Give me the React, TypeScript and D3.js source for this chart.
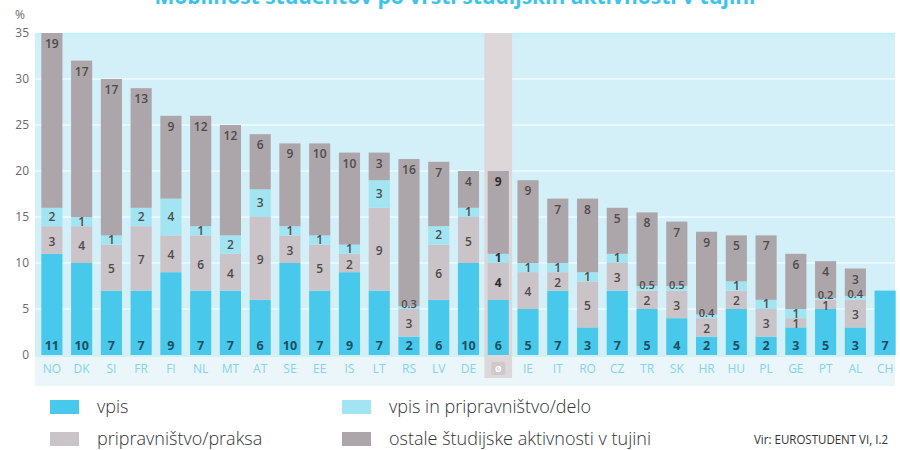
import React from "react";
import * as d3 from "d3";

const countries = ["NO","DK","SI","FR","FI","NL","MT","AT","SE","EE","IS","LT","RS","LV","DE","Ø","IE","IT","RO","CZ","TR","SK","HR","HU","PL","GE","PT","AL","CH"];
const vpis = [11,10,7,7,9,7,7,6,10,7,9,7,2,6,10,6,5,7,3,7,5,4,2,5,2,3,5,3,7];
const praksa = [3,4,5,7,4,6,4,9,3,5,2,9,3,6,5,4,4,2,5,3,2,3,2,2,3,1,1,3,0];
const vpisDelo = [2,1,1,2,4,1,2,3,1,1,1,3,0.3,2,1,1,1,1,1,1,0.5,0.5,0.4,1,1,1,0.2,0.4,0];
const ostale = [19,17,17,13,9,12,12,6,9,10,10,3,16,7,4,9,9,7,8,5,8,7,9,5,7,6,4,3,0];
const yTicks = [0,5,10,15,20,25,30,35];

const seriesNames = ["vpis","pripravništvo/praksa","vpis in pripravništvo/delo","ostale študijske aktivnosti v tujini"];
const colors = ["#48c9eb","#cac3c7","#a3e4f2","#aca5a9"];

const FONT = "'Open Sans', 'DejaVu Sans', sans-serif";

export default function App() {
  const W = 900, H = 450;
  const x = d3.scaleBand<string>().domain(countries).range([37, 900]).paddingInner(0.29).paddingOuter(0.145);
  const y = d3.scaleLinear().domain([0, 35]).range([355, 33]);
  const rows = countries.map((c, i) => ({ c, vpis: vpis[i], praksa: praksa[i], vpisDelo: vpisDelo[i], ostale: ostale[i] }));
  const keys = ["vpis","praksa","vpisDelo","ostale"];
  const stack = d3.stack<any>().keys(keys)(rows);
  const avgX = x("Ø")!;
  const step = x.step();

  return (
    <svg width={W} height={H} style={{ display: "block", position: "absolute", left: 0, top: 0 }}>
      <rect x={0} y={0} width={W} height={H} fill="#ffffff" />
      <text x={455} y={4} textAnchor="middle" fontFamily={FONT} fontWeight={700} fontSize={21} fill="#3dc3ea">
        Mobilnost študentov po vrsti študijskih aktivnosti v tujini
      </text>
      <rect x={35} y={33} width={860} height={324} fill="#d3f0f8" />
      <rect x={35} y={33} width={860} height={4} fill="#c6f1f7" />
      <rect x={35} y={357} width={860} height={29} fill="#eaf6fa" />
      {yTicks.filter(t => t > 0 && t < 35).map(t => (
        <line key={t} x1={35} x2={895} y1={y(t)} y2={y(t)} stroke="#e8f8fc" strokeWidth={2} />
      ))}
      <rect x={avgX + x.bandwidth() / 2 - step / 2 + 1} y={33} width={step - 2} height={345} fill="#ddd7da" />
      {yTicks.map(t => (
        <text key={t} x={29} y={y(t) + 4} textAnchor="end" fontFamily={FONT} fontSize={12} fill="#6a6a6a">{t}</text>
      ))}
      <text x={20} y={19} textAnchor="middle" fontFamily={FONT} fontSize={12} fill="#6a6a6a">%</text>
      {stack.map((s, si) => (
        <g key={si}>
          {s.map((d, i) => {
            const h = y(d[0]) - y(d[1]);
            if (h <= 0) return null;
            return <rect key={i} x={x(countries[i])} y={y(d[1])} width={x.bandwidth()} height={h} fill={colors[si]} />;
          })}
        </g>
      ))}
      {stack.map((s, si) => (
        <g key={"l" + si}>
          {s.map((d, i) => {
            const v = d[1] - d[0];
            if (v <= 0) return null;
            const cx = x(countries[i])! + x.bandwidth() / 2;
            const small = si === 2 && v < 0.6;
            const isAvg = countries[i] === "Ø";
            let ly;
            if (si === 0) ly = 350;
            else if (si === 3) ly = y(d[1]) + 15;
            else if (si === 1) ly = (y(d[0]) + y(d[1])) / 2 + 5.5;
            else ly = (y(d[0]) + y(d[1])) / 2 + (small ? 0.5 : 4);
            const txt = Math.round(v * 10) / 10;
            return (
              <text key={i} x={cx} y={ly} textAnchor="middle" fontFamily={FONT}
                fontWeight={si === 0 || isAvg ? 700 : 600} fontSize={small ? 11 : si === 0 ? 12.5 : 12}
                fill={si === 0 ? "#1d4f63" : isAvg ? "#2f2b2d" : "#4f4b4d"}>{txt}</text>
            );
          })}
        </g>
      ))}
      {countries.map(c => {
        const cx = x(c)! + x.bandwidth() / 2;
        if (c === "Ø") {
          return (
            <g key={c}>
              <rect x={cx - 7} y={362} width={14} height={13} rx={2} fill="#cfc9cc" />
              <text x={cx} y={372} textAnchor="middle" fontFamily={FONT} fontSize={8} fontWeight={700} fill="#ffffff">Ø</text>
            </g>
          );
        }
        return <text key={c} x={cx} y={373} textAnchor="middle" fontFamily={FONT} fontSize={12} fill="#86d3ea">{c}</text>;
      })}
      {seriesNames.map((n, i) => {
        const col = i % 2 === 0 ? 0 : 1;
        const row = i < 2 ? 0 : 1;
        const order = [0, 2, 1, 3][i];
        const sx = col === 0 ? 50 : 342;
        const sy = row === 0 ? 400 : 432;
        return (
          <g key={n}>
            <rect x={sx} y={sy} width={29} height={14} fill={colors[order]} />
            <text x={sx + 47} y={sy + 13} fontFamily={FONT} fontWeight={300} fontSize={18} fill="#333">{seriesNames[order]}</text>
          </g>
        );
      })}
      <text x={888} y={444} textAnchor="end" fontFamily="'Liberation Sans Narrow', 'Open Sans', sans-serif" fontSize={12.5} fill="#333" textLength={134} lengthAdjust="spacingAndGlyphs">Vir: EUROSTUDENT VI, I.2</text>
    </svg>
  );
}
